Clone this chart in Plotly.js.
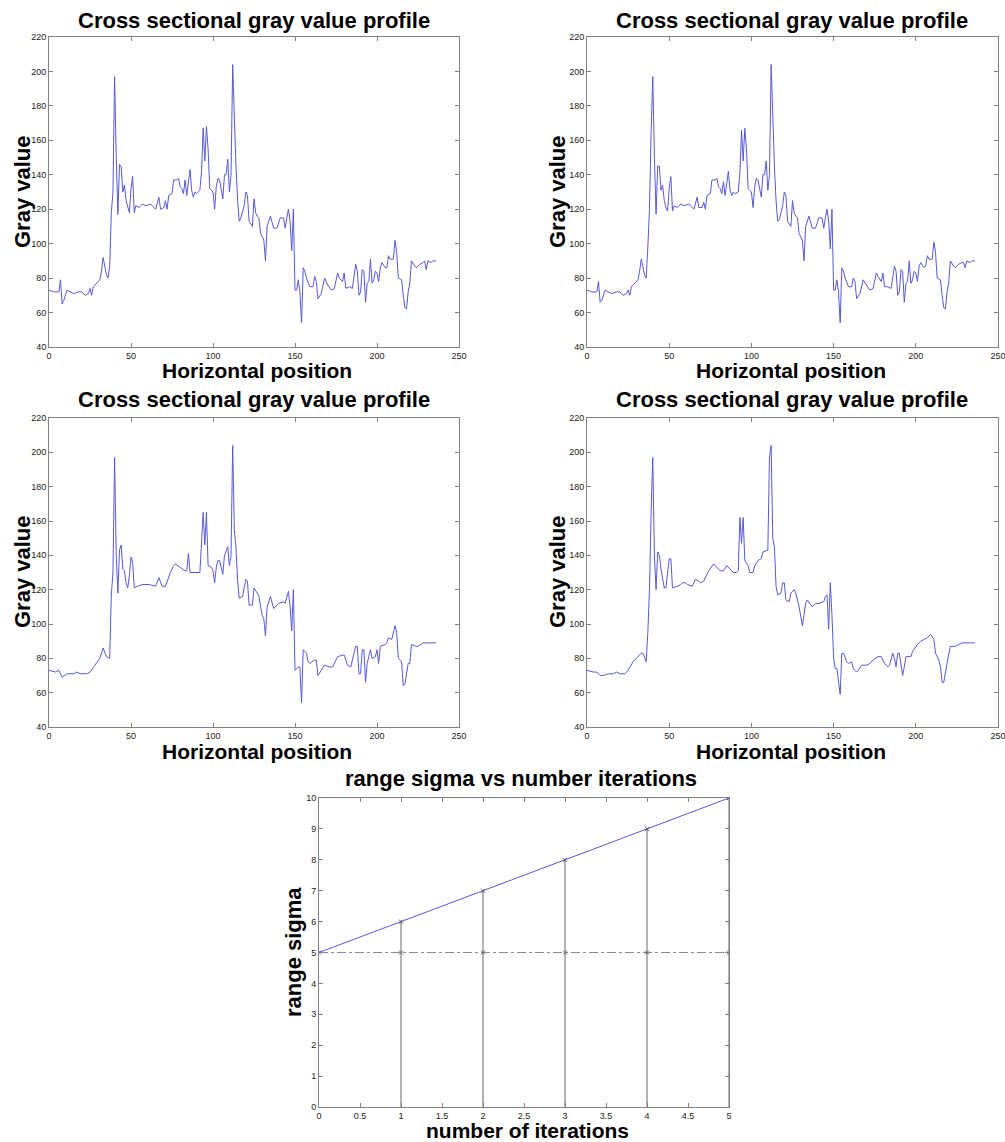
<!DOCTYPE html>
<html>
<head>
<meta charset="utf-8">
<script src="https://cdn.plot.ly/plotly-3.0.1.min.js"></script>
<style>html,body{margin:0;padding:0;background:#fff;}#chart{width:1005px;height:1142px;}</style>
</head>
<body>
<div id="chart"></div>
<script>
// ---------- Data ----------
var pos1 = [0,3,6,7,8,9,11,13,15,18,
  20,22,24,25,26,27,30,31,32,33,
  35,36,37,38,39,40,41,42,43,44,
  45,46,47,48,49,50,51,52,53,55,
  57,59,62,65,67,68,70,71,72,73,
  75,76,78,79,80,81,82,83,84,86,
  87,88,89,90,92,93,94,95,96,97,
  98,99,100,101,102,103,104,106,107,108,
  109,110,111,112,113,114,115,116,117,119,
  120,121,122,123,124,125,126,127,128,129,
  131,132,133,135,136,137,139,141,143,144,
  145,146,147,148,149,150,151,152,153,154,
  155,156,157,158,159,161,162,163,164,166,
  168,170,172,174,176,177,179,180,181,183,
  185,187,188,189,190,191,192,193,194,195,
  196,197,198,199,200,201,202,203,205,206,
  207,208,210,211,212,213,215,216,217,218,
  219,220,221,223,224,226,228,229,230,231,
  233,234,236];
var gray1 = [73,72,72,79,65,67,73,72,71,72,
  72,70,71,74,70,75,78,79,84,92,
  82,80,87,118,130,197,150,117,146,145,
  130,134,125,121,118,132,139,118,122,121,
  123,122,123,120,127,120,121,125,120,128,
  129,137,137,138,133,132,129,137,128,143,
  131,127,130,129,131,142,167,148,168,155,
  132,131,130,120,133,138,137,126,140,140,
  149,130,140,204,170,145,125,113,115,122,
  130,128,113,111,110,126,118,116,115,106,
  102,90,110,116,113,109,109,115,115,109,
  115,120,113,96,120,73,73,79,72,54,
  86,84,80,77,75,75,81,78,68,71,
  80,76,73,74,83,80,78,83,74,75,
  74,88,84,70,72,85,84,66,77,78,
  91,77,79,84,83,78,86,89,86,86,
  93,91,91,102,95,80,79,70,63,62,
  72,77,90,87,86,88,89,90,85,90,
  89,90,90];

var pos2 = pos1.slice();
var gray2 = [73,72,72,78,66,67,73,72,71,72,
  72,70,71,73,70,75,78,79,84,91,
  82,80,98,120,165,197,150,117,145,145,
  131,134,125,121,119,132,139,119,122,121,
  123,122,123,120,127,121,121,124,120,128,
  129,137,137,138,133,132,129,136,128,142,
  131,128,130,129,130,141,166,148,167,155,
  132,131,130,121,133,138,137,127,140,140,
  148,131,140,204,170,145,125,113,114,122,
  130,128,113,111,110,125,118,116,115,106,
  102,90,110,116,113,109,109,115,115,109,
  115,120,113,97,120,73,73,79,72,54,
  86,84,80,77,75,75,80,78,68,71,
  79,76,73,74,83,81,78,83,75,75,
  74,87,84,70,72,85,84,66,77,78,
  90,77,79,84,83,78,87,89,86,87,
  93,91,91,101,95,80,79,70,63,62,
  72,77,90,87,86,88,89,89,86,90,
  89,90,90];

var pos3 = [0,4,6,8,11,15,17,19,23,25,
  28,31,33,35,37,38,39,40,41,42,
  43,44,45,46,47,48,49,50,51,52,
  54,57,61,64,65,67,69,71,73,74,
  76,77,80,83,84,85,86,90,92,94,
  95,96,97,99,100,101,102,103,104,106,
  107,109,110,111,112,113,114,115,116,118,
  119,120,121,122,124,125,127,128,130,131,
  132,133,135,137,140,143,144,146,147,148,
  149,150,152,153,154,155,157,158,159,162,
  163,164,166,168,171,173,176,179,180,182,
  184,187,188,189,190,191,192,193,194,195,
  196,197,199,200,201,202,205,206,207,209,
  211,212,213,215,216,217,219,220,221,224,
  225,228,236];
var gray3 = [73,72,73,69,71,71,72,71,71,72,
  76,80,86,81,80,117,130,197,140,118,
  143,146,132,131,124,121,128,139,136,121,
  122,123,123,122,122,127,122,122,128,130,
  134,135,133,131,131,141,130,130,130,165,
  146,165,134,133,131,124,133,137,137,129,
  140,145,134,140,204,155,145,125,115,116,
  121,126,125,111,111,121,118,116,105,103,
  93,110,116,109,112,113,112,119,110,96,
  120,73,75,75,54,85,83,78,77,79,
  79,70,73,76,75,75,81,82,82,76,
  75,87,87,71,71,85,85,66,77,81,
  85,80,81,85,77,87,88,89,92,91,
  99,95,80,78,64,65,77,77,88,87,
  87,89,89];

var pos4 = [0,4,6,8,10,13,16,18,20,23,
  25,28,30,33,34,35,36,37,38,39,
  40,41,42,43,44,45,46,47,48,49,
  50,51,52,55,57,58,60,61,64,66,
  68,69,71,74,77,79,81,83,85,87,
  89,91,92,93,94,95,96,98,99,101,
  102,104,106,107,110,111,112,113,114,115,
  116,118,119,120,121,123,124,126,127,129,
  130,131,133,134,137,139,141,144,145,146,
  147,148,149,150,151,152,154,155,156,158,
  159,161,162,164,165,167,170,172,174,177,
  179,181,183,184,186,187,188,189,190,192,
  193,194,197,198,201,203,207,209,211,212,
  214,215,216,217,219,220,221,224,226,228,
  236];
var gray4 = [73,72,72,70,70,71,71,72,71,71,
  73,78,80,83,83,80,78,95,120,165,
  197,140,120,142,140,132,125,121,121,132,
  138,138,121,122,123,124,124,123,122,126,
  125,124,125,131,135,133,131,131,134,132,
  130,130,131,162,147,162,137,134,130,130,
  134,137,138,142,143,197,204,150,145,122,
  117,118,124,124,114,113,118,120,118,110,
  103,99,112,114,110,112,112,113,116,117,
  97,124,105,80,74,74,59,83,83,78,
  77,78,74,72,73,76,76,77,79,81,
  81,77,75,76,83,80,75,83,83,70,
  75,81,81,84,88,90,92,94,91,83,
  79,75,66,66,77,82,87,87,88,89,
  89];

var iterations = [0,1,2,3,4,5];
var rangeSigma = [5,6,7,8,9,10];
var baseSigma = [5,5,5,5,5,5];

var profileTitle = "Cross sectional gray value profile";
var xLabel = "Horizontal position";
var yLabel = "Gray value";
var sigmaTitle = "range sigma vs number iterations";
var sigmaX = "number of iterations";
var sigmaY = "range sigma";

// ---------- Build ----------
var W = 1005, H = 1142;
function px(v){ return v / W; }
function py(v){ return 1 - v / H; }

var lineBlue = 'rgb(88,88,216)';
var traces = [];
[[pos1,gray1],[pos2,gray2],[pos3,gray3],[pos4,gray4]].forEach(function(p, i){
  var n = i === 0 ? '' : String(i+1);
  traces.push({x:p[0], y:p[1], type:'scatter', mode:'lines',
    line:{color:lineBlue, width:1}, xaxis:'x'+n, yaxis:'y'+n, hoverinfo:'x+y'});
});

// stems
var sx = [], sy = [];
for (var i = 1; i < iterations.length; i++) {
  sx.push(iterations[i], iterations[i], null);
  sy.push(0, rangeSigma[i], null);
}
traces.push({x:sx, y:sy, type:'scatter', mode:'lines', line:{color:'#666', width:1},
  xaxis:'x5', yaxis:'y5'});
traces.push({x:iterations, y:baseSigma, type:'scatter', mode:'lines+markers',
  line:{color:'#888', width:1, dash:'dashdot'}, marker:{symbol:'x-thin', size:4, color:'#666', line:{width:1, color:'#666'}},
  xaxis:'x5', yaxis:'y5'});
traces.push({x:iterations, y:rangeSigma, type:'scatter', mode:'lines',
  line:{color:lineBlue, width:1}, xaxis:'x5', yaxis:'y5'});
traces.push({x:iterations.slice(1), y:rangeSigma.slice(1), type:'scatter', mode:'markers',
  marker:{symbol:'x-thin', size:4, color:'#555', line:{width:1, color:'#555'}},
  xaxis:'x5', yaxis:'y5'});

function ax(extra){
  var base = {showgrid:false, zeroline:false, showline:true, linecolor:'#808080', linewidth:1,
    mirror:'ticks', ticks:'inside', ticklen:4, tickcolor:'#808080', tickwidth:1,
    ticklabeloverflow:'allow',
    tickfont:{family:'Liberation Sans, Arial, sans-serif', size:9, color:'#222'}, fixedrange:true};
  for (var k in extra) base[k] = extra[k];
  return base;
}

var xL = [px(49), px(459)], xR = [px(587), px(998)], xC = [px(319), px(729)];
var yT = [py(347), py(37)], yM = [py(727), py(418)], yB = [py(1107), py(798)];

var profX = {range:[0,250], tick0:0, dtick:50};
var profY = {range:[40,220], tick0:40, dtick:20};
function merge(a,b){ var o={}; for (var k in a) o[k]=a[k]; for (var k2 in b) o[k2]=b[k2]; return o; }

var layout = {
  width:W, height:H, margin:{l:0,r:0,t:0,b:0},
  paper_bgcolor:'#fff', plot_bgcolor:'#fff', showlegend:false,
  font:{family:'Liberation Sans, Arial, sans-serif', color:'#000'},
  xaxis: ax(merge(profX,{domain:xL, anchor:'y'})),
  yaxis: ax(merge(profY,{domain:yT, anchor:'x'})),
  xaxis2: ax(merge(profX,{domain:xR, anchor:'y2'})),
  yaxis2: ax(merge(profY,{domain:yT, anchor:'x2'})),
  xaxis3: ax(merge(profX,{domain:xL, anchor:'y3'})),
  yaxis3: ax(merge(profY,{domain:yM, anchor:'x3'})),
  xaxis4: ax(merge(profX,{domain:xR, anchor:'y4'})),
  yaxis4: ax(merge(profY,{domain:yM, anchor:'x4'})),
  xaxis5: ax({range:[0,5], tick0:0, dtick:0.5, domain:xC, anchor:'y5'}),
  yaxis5: ax({range:[0,10], tick0:0, dtick:1, domain:yB, anchor:'x5'}),
  annotations: []
};

function ann(text, x, y, angle, size){
  layout.annotations.push({text:'<b>'+text+'</b>', xref:'paper', yref:'paper', x:x, y:y,
    xanchor:'center', yanchor:'middle', showarrow:false, textangle:angle||0,
    font:{family:'Liberation Sans, Arial, sans-serif', size:size||22, color:'#000'}});
}
ann(profileTitle, px(254), py(20));
ann(profileTitle, px(792), py(20));
ann(profileTitle, px(254), py(399));
ann(profileTitle, px(792), py(399));
ann(xLabel, px(257), py(370), 0, 21);
ann(xLabel, px(791), py(370), 0, 21);
ann(xLabel, px(257), py(752), 0, 21);
ann(xLabel, px(791), py(752), 0, 21);
ann(yLabel, px(22), py(192), -90);
ann(yLabel, px(557), py(192), -90);
ann(yLabel, px(22), py(572), -90);
ann(yLabel, px(557), py(572), -90);
ann(sigmaTitle, px(521), py(779));
ann(sigmaX, px(527), py(1130), 0, 21);
ann(sigmaY, px(293), py(952), -90);

Plotly.newPlot('chart', traces, layout, {displayModeBar:false, staticPlot:true});
</script>
</body>
</html>
